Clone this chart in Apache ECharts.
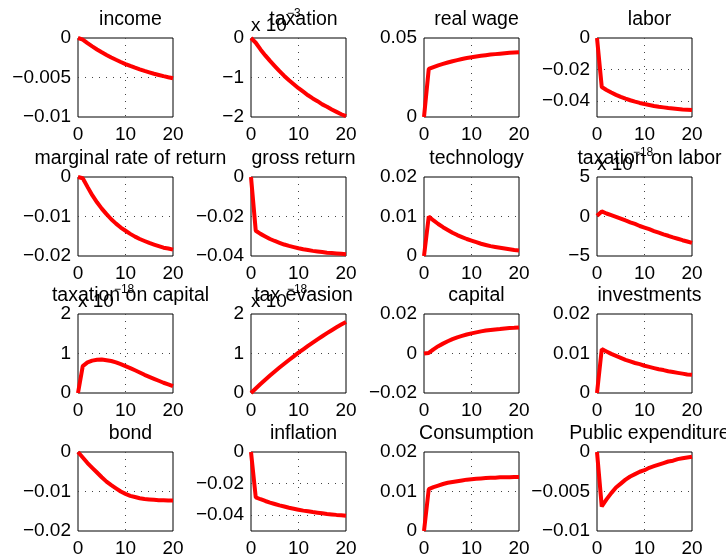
<!DOCTYPE html>
<html>
<head>
<meta charset="utf-8">
<script src="https://cdn.jsdelivr.net/npm/echarts@6/dist/echarts.min.js"></script>
<style>
  html, body { margin: 0; padding: 0; background: #fff; }
  #chart { width: 726px; height: 560px; }
</style>
</head>
<body>
<div id="chart"></div>
<script>
// Impulse responses over 20 periods, one panel per variable.
const periods = [0, 1, 2, 3, 4, 5, 6, 7, 8, 9, 10, 11, 12, 13, 14, 15, 16, 17, 18, 19, 20];

const income = [0, -0.0002, -0.00065, -0.00106, -0.00145, -0.00181, -0.00215, -0.00247, -0.00276, -0.00304, -0.0033, -0.00354, -0.00376, -0.00397, -0.00417, -0.00435, -0.00453, -0.00468, -0.00483, -0.00497, -0.0051];
// taxation, in units of 1e-3
const taxation = [0, -0.12, -0.29, -0.44, -0.58, -0.71, -0.84, -0.96, -1.07, -1.17, -1.27, -1.36, -1.45, -1.53, -1.60, -1.68, -1.74, -1.81, -1.87, -1.93, -1.98];
const realWage = [0, 0.0304, 0.0316, 0.0327, 0.0336, 0.0345, 0.0353, 0.0360, 0.0367, 0.0373, 0.0378, 0.0383, 0.0387, 0.0391, 0.0395, 0.0398, 0.0401, 0.0404, 0.0406, 0.0408, 0.0410];
const labor = [0, -0.0310, -0.0329, -0.0345, -0.0360, -0.0373, -0.0384, -0.0394, -0.0403, -0.0411, -0.0418, -0.0424, -0.0430, -0.0435, -0.0439, -0.0443, -0.0446, -0.0449, -0.0452, -0.0454, -0.0456];
const marginalReturn = [0, -0.0003, -0.0025, -0.0046, -0.0064, -0.0080, -0.0094, -0.0107, -0.0118, -0.0128, -0.0136, -0.0144, -0.0151, -0.0157, -0.0162, -0.0167, -0.0171, -0.0175, -0.0179, -0.0181, -0.0184];
const grossReturn = [0, -0.0272, -0.0288, -0.0301, -0.0314, -0.0324, -0.0333, -0.0342, -0.0349, -0.0355, -0.0361, -0.0366, -0.0370, -0.0374, -0.0377, -0.0380, -0.0383, -0.0385, -0.0387, -0.0389, -0.0391];
const technology = [0, 0.0100, 0.0090, 0.0081, 0.0073, 0.0066, 0.0059, 0.0053, 0.0048, 0.0043, 0.0039, 0.0035, 0.0031, 0.0028, 0.0025, 0.0023, 0.0021, 0.0019, 0.0017, 0.0015, 0.0014];
// taxation on labor, in units of 1e-18
const taxLabor = [0.1, 0.64, 0.38, 0.17, -0.04, -0.26, -0.5, -0.73, -0.94, -1.2, -1.4, -1.6, -1.84, -2.05, -2.26, -2.44, -2.65, -2.82, -3.0, -3.16, -3.33];
// taxation on capital, in units of 1e-18
const taxCapital = [0, 0.68, 0.775, 0.82, 0.84, 0.85, 0.83, 0.81, 0.775, 0.73, 0.68, 0.63, 0.575, 0.52, 0.46, 0.41, 0.36, 0.31, 0.26, 0.22, 0.175];
// tax evasion, in units of 1e-18
const taxEvasion = [0, 0.115, 0.226, 0.334, 0.441, 0.544, 0.644, 0.741, 0.836, 0.928, 1.02, 1.107, 1.193, 1.276, 1.358, 1.437, 1.515, 1.59, 1.663, 1.733, 1.80];
const capital = [0, 0.0003, 0.0021, 0.0037, 0.0050, 0.0062, 0.0073, 0.0082, 0.0089, 0.0096, 0.0102, 0.0107, 0.0112, 0.0116, 0.0119, 0.0122, 0.0124, 0.0127, 0.0129, 0.0130, 0.0132];
const investments = [0, 0.0111, 0.0105, 0.0099, 0.0094, 0.0089, 0.0084, 0.0080, 0.0076, 0.0073, 0.0069, 0.0066, 0.0063, 0.0060, 0.0058, 0.0055, 0.0053, 0.0051, 0.0049, 0.0047, 0.0046];
const bond = [0, -0.0014, -0.0028, -0.0040, -0.0052, -0.0064, -0.0075, -0.0084, -0.0092, -0.0100, -0.0106, -0.0111, -0.0114, -0.0117, -0.0119, -0.0120, -0.0121, -0.0122, -0.0122, -0.0123, -0.0123];
const inflation = [0, -0.0287, -0.0299, -0.0310, -0.0320, -0.0329, -0.0338, -0.0345, -0.0353, -0.0359, -0.0365, -0.0371, -0.0375, -0.0380, -0.0384, -0.0388, -0.0392, -0.0395, -0.0398, -0.0400, -0.0403];
const consumption = [0, 0.0106, 0.0111, 0.0115, 0.0119, 0.0122, 0.0124, 0.0126, 0.0128, 0.0130, 0.0131, 0.0132, 0.0133, 0.0134, 0.0135, 0.0135, 0.0136, 0.0136, 0.0136, 0.0137, 0.0137];
const publicExpenditure = [0, -0.0069, -0.0060, -0.0052, -0.0045, -0.0040, -0.0035, -0.0031, -0.0028, -0.0025, -0.0023, -0.0020, -0.0018, -0.0016, -0.0014, -0.0012, -0.0011, -0.0009, -0.0008, -0.0007, -0.0006];

const titles = ['income', 'taxation', 'real wage', 'labor',
  'marginal rate of return', 'gross return', 'technology', 'taxation on labor',
  'taxation on capital', 'tax evasion', 'capital', 'investments',
  'bond', 'inflation', 'Consumption', 'Public expenditure'];
const seriesValues = [income, taxation, realWage, labor,
  marginalReturn, grossReturn, technology, taxLabor,
  taxCapital, taxEvasion, capital, investments,
  bond, inflation, consumption, publicExpenditure];
// y-axis range [min, max] of each panel
const yRanges = [[-0.01, 0], [-2, 0], [0, 0.05], [-0.05, 0],
  [-0.02, 0], [-0.04, 0], [0, 0.02], [-5, 5],
  [0, 2], [0, 2], [-0.02, 0.02], [0, 0.02],
  [-0.02, 0], [-0.05, 0], [0, 0.02], [-0.01, 0]];
// y tick labels of each panel
const yTicks = [[-0.01, -0.005, 0], [-2, -1, 0], [0, 0.05], [-0.04, -0.02, 0],
  [-0.02, -0.01, 0], [-0.04, -0.02, 0], [0, 0.01, 0.02], [-5, 0, 5],
  [0, 1, 2], [0, 1, 2], [-0.02, 0, 0.02], [0, 0.01, 0.02],
  [-0.02, -0.01, 0], [-0.04, -0.02, 0], [0, 0.01, 0.02], [-0.01, -0.005, 0]];
// power-of-ten multiplier shown above the axis (null = none)
const exponents = [null, -3, null, null,
  null, null, null, -18,
  -18, -18, null, null,
  null, null, null, null];
const xTicks = [0, 10, 20];

const FONT = 'Liberation Sans, Arial, Helvetica, sans-serif';
const colLeft = [78, 251, 424, 597];
const rowTop = [38, 177, 314, 452];
const plotW = 95, plotH = 79;

const fmt = v => String(+(+v).toPrecision(6)).replace('-', '\u2212');

const grid = [], xAxis = [], yAxis = [], series = [], title = [];
titles.forEach((name, i) => {
  const r = Math.floor(i / 4), c = i % 4;
  const left = colLeft[c], top = rowTop[r];
  grid.push({
    left: left, top: top, width: plotW, height: plotH,
    show: true, borderColor: '#000', borderWidth: 1, backgroundColor: '#fff'
  });
  title.push({
    text: name, left: left + plotW / 2, top: top - 33, textAlign: 'center',
    textStyle: { fontFamily: FONT, fontSize: 19.5, fontWeight: 'normal', color: '#000' }
  });
  const [lo, hi] = yRanges[i];
  const inner = yTicks[i].filter(v => v > lo && v < hi);
  const dotted = { color: '#444', width: 1, type: [1, 6] };
  xAxis.push({
    type: 'value', gridIndex: i, min: 0, max: 20,
    axisLine: { show: false },
    axisTick: { show: false, customValues: [10] },
    splitLine: { show: true, lineStyle: dotted },
    axisLabel: { customValues: xTicks, formatter: fmt, margin: 8, color: '#000', fontFamily: FONT, fontSize: 19 }
  });
  const y = {
    type: 'value', gridIndex: i, min: lo, max: hi,
    axisLine: { show: false },
    axisTick: { show: false, customValues: inner },
    splitLine: { show: true, lineStyle: dotted },
    axisLabel: { customValues: yTicks[i], formatter: fmt, margin: 7, color: '#000', fontFamily: FONT, fontSize: 19 }
  };
  if (exponents[i] !== null) {
    y.name = '{a|x 10}{b|' + fmt(exponents[i]) + '}';
    y.nameLocation = 'end';
    y.nameGap = 3;
    y.nameTextStyle = {
      align: 'left', verticalAlign: 'bottom', color: '#000',
      rich: {
        a: { fontFamily: FONT, fontSize: 19, color: '#000', verticalAlign: 'bottom' },
        b: { fontFamily: FONT, fontSize: 12, color: '#000', verticalAlign: 'bottom', padding: [0, 0, 15, 0] }
      }
    };
  }
  yAxis.push(y);
  series.push({
    type: 'line', xAxisIndex: i, yAxisIndex: i,
    data: periods.map((t, k) => [t, seriesValues[i][k]]),
    showSymbol: false, symbol: 'none', clip: false,
    lineStyle: { color: '#ff0000', width: 4 },
    z: 3
  });
});

const chart = echarts.init(document.getElementById('chart'), null, { renderer: 'canvas' });
chart.setOption({
  animation: false,
  backgroundColor: '#fff',
  title: title, grid: grid, xAxis: xAxis, yAxis: yAxis, series: series
});
</script>
</body>
</html>
